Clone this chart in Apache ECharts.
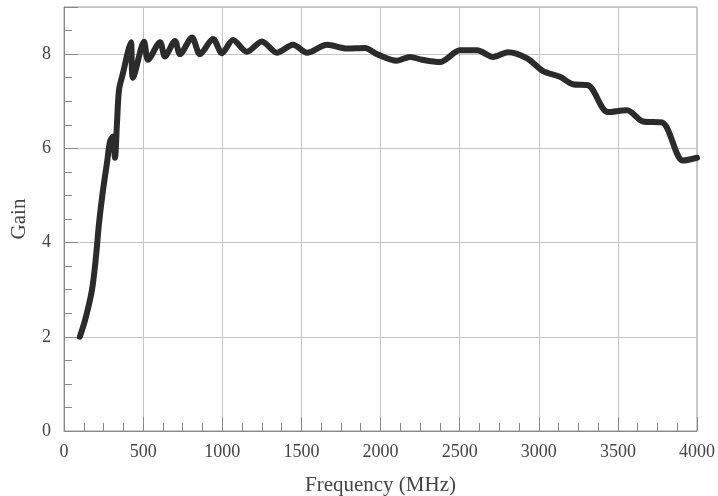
<!DOCTYPE html>
<html>
<head>
<meta charset="utf-8">
<script src="https://cdn.jsdelivr.net/npm/echarts@6/dist/echarts.min.js"></script>
<style>
  html, body { margin: 0; padding: 0; background: #fff; }
  #main { width: 718px; height: 496px; }
</style>
</head>
<body>
<div id="main"></div>
<script>
// 曲线数据：频率 (MHz) 与增益
const freq = [100, 133, 177, 202, 221, 246, 272, 291, 309, 322, 335, 348, 373, 404, 423, 436,
  506, 531, 607, 638, 701, 733, 809, 859, 942, 998, 1068, 1156, 1251, 1346, 1447, 1536,
  1662, 1788, 1902, 1978, 2104, 2186, 2262, 2376, 2502, 2610, 2711, 2806, 2926, 3027,
  3134, 3216, 3311, 3437, 3558, 3659, 3779, 3912, 4000];
const gain = [2.0, 2.35, 3.0, 3.7, 4.4, 5.1, 5.7, 6.15, 6.25, 5.8, 6.55, 7.25, 7.6, 8.05, 8.25, 7.5,
  8.26, 7.88, 8.25, 7.95, 8.28, 8.0, 8.35, 8.0, 8.32, 8.02, 8.3, 8.05, 8.27, 8.03, 8.2, 8.03,
  8.2, 8.12, 8.13, 8.0, 7.86, 7.94, 7.88, 7.83, 8.08, 8.08, 7.94, 8.04, 7.91, 7.64,
  7.52, 7.36, 7.34, 6.77, 6.81, 6.57, 6.55, 5.74, 5.8];

let myChart = echarts.init(document.getElementById('main'));

const labelFont = { fontFamily: 'Liberation Serif', fontSize: 18, color: '#444' };
const nameFont = { fontFamily: 'Liberation Serif', fontSize: 21, color: '#444' };

let option = {
  animation: false,
  backgroundColor: '#fff',
  grid: {
    left: 64, right: 21, top: 7, bottom: 65,
    outerBoundsMode: 'none',
    containLabel: false,
    show: true, borderColor: '#999', borderWidth: 1
  },
  xAxis: {
    type: 'value',
    min: 0, max: 4000, interval: 500,
    name: 'Frequency (MHz)',
    nameLocation: 'middle',
    nameGap: 44,
    nameTextStyle: nameFont,
    axisLine: { lineStyle: { color: '#888' } },
    axisTick: { inside: true, length: 14, lineStyle: { color: '#888' } },
    minorTick: { show: true, splitNumber: 4, length: 8, lineStyle: { color: '#888' } },
    axisLabel: Object.assign({ margin: 12, formatter: v => String(v) }, labelFont),
    splitLine: { lineStyle: { color: '#c4c4c4' } }
  },
  yAxis: {
    type: 'value',
    min: 0, max: 9, interval: 2,
    name: 'Gain',
    nameLocation: 'middle',
    nameGap: 34,
    nameTextStyle: nameFont,
    axisLine: { show: true, lineStyle: { color: '#888' } },
    axisTick: { show: true, inside: true, length: 14, lineStyle: { color: '#888' } },
    minorTick: { show: true, splitNumber: 4, length: 8, lineStyle: { color: '#888' } },
    axisLabel: Object.assign({ margin: 13, showMaxLabel: false }, labelFont),
    splitLine: { lineStyle: { color: '#c4c4c4' } }
  },
  series: [{
    type: 'line',
    data: freq.map((f, i) => [f, gain[i]]),
    showSymbol: false,
    smooth: 0.3,
    lineStyle: { color: '#2b2b2b', width: 6, cap: 'round', join: 'round' }
  }]
};

myChart.setOption(option);
</script>
</body>
</html>
